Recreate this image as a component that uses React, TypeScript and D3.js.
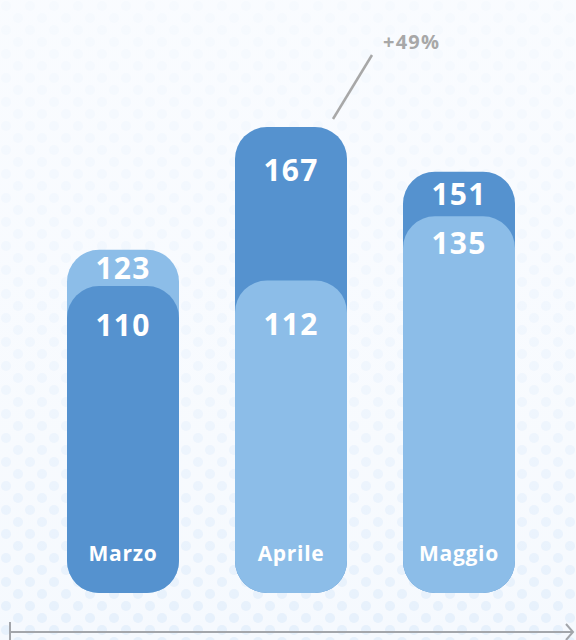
import React from "react";
import * as d3 from "d3";

const categories = ["Marzo", "Aprile", "Maggio"];
const darkValues = [110, 167, 151];
const lightValues = [123, 112, 135];
const annotationText = "+49%";

// layout only: vertical offset of the front label below its bar top
const FRONT_LABEL_OFFSET = [39, 44, 27];

const W = 576;
const H = 640;
const DARK = "#5592CF";
const LIGHT = "#8CBDE8";

export default function App() {
  const x = d3.scaleBand<string>().domain(categories).range([67, 515]).paddingInner(1 / 3).paddingOuter(0);
  const y = d3.scaleLinear().domain([0, 167]).range([593, 127]);
  const bw = x.bandwidth();
  const font = "'Open Sans', 'Noto Sans', sans-serif";

  const groups = categories.map((c, i) => {
    const items = [
      { v: darkValues[i], color: DARK },
      { v: lightValues[i], color: LIGHT },
    ].sort((a, b) => b.v - a.v);
    return { c, i, back: items[0], front: items[1] };
  });

  const aprIdx = 1;
  const lx1 = x(categories[aprIdx])! + bw * 0.875;
  const aTop = y(darkValues[aprIdx]);

  return (
    <svg width={W} height={H} style={{ position: "absolute", left: 0, top: 0 }}>
      <defs>
        <pattern id="dots" width={24} height={24} patternUnits="userSpaceOnUse">
          <rect width={24} height={24} fill="#F5F9FE" />
          <circle cx={6} cy={6} r={5} fill="#E5F0FC" />
          <circle cx={18} cy={18} r={5} fill="#E5F0FC" />
        </pattern>
        <linearGradient id="fade" x1="0" y1="0" x2="0" y2="1">
          <stop offset="0" stopColor="#FAFCFF" stopOpacity={0.8} />
          <stop offset="0.6" stopColor="#FAFCFF" stopOpacity={0.5} />
          <stop offset="1" stopColor="#FAFCFF" stopOpacity={0.05} />
        </linearGradient>
      </defs>
      <rect width={W} height={H} fill="url(#dots)" />
      <rect width={W} height={H} fill="url(#fade)" />

      {groups.map((g) => {
        const bx = x(g.c)!;
        const backTop = y(g.back.v);
        const frontTop = y(g.front.v);
        const backLabelY = Math.min(backTop + 43, (backTop + frontTop) / 2);
        const frontLabelY = frontTop + FRONT_LABEL_OFFSET[g.i];
        return (
          <g key={g.c}>
            <rect x={bx} y={backTop} width={bw} height={y(0) - backTop} rx={32} ry={32} fill={g.back.color} />
            <rect x={bx} y={frontTop} width={bw} height={y(0) - frontTop} rx={32} ry={32} fill={g.front.color} />
            <text x={bx + bw / 2} y={backLabelY} dy="0.36em" textAnchor="middle" fill="#fff" fontFamily={font} fontWeight={700} fontSize={30} letterSpacing={1.2}>
              {g.back.v}
            </text>
            <text x={bx + bw / 2} y={frontLabelY} dy="0.36em" textAnchor="middle" fill="#fff" fontFamily={font} fontWeight={700} fontSize={30} letterSpacing={1.2}>
              {g.front.v}
            </text>
            <text x={bx + bw / 2} y={553} dy="0.36em" textAnchor="middle" fill="#fff" fontFamily={font} fontWeight={700} fontSize={21} letterSpacing={0.7}>
              {g.c}
            </text>
          </g>
        );
      })}

      <line x1={lx1} y1={aTop - 8} x2={lx1 + 39} y2={aTop - 72} stroke="#A8A8A8" strokeWidth={2.5} />
      <text x={383} y={42} dy="0.36em" fill="#A8A8A8" fontFamily={font} fontWeight={700} fontSize={20} letterSpacing={1.2}>
        {annotationText}
      </text>

      <line x1={10} y1={632} x2={573} y2={632} stroke="#A3A6AB" strokeWidth={2} />
      <line x1={10} y1={622} x2={10} y2={640} stroke="#A3A6AB" strokeWidth={2} />
      <polyline points="566,624 573,632 566,640" fill="none" stroke="#A3A6AB" strokeWidth={2} />
    </svg>
  );
}
